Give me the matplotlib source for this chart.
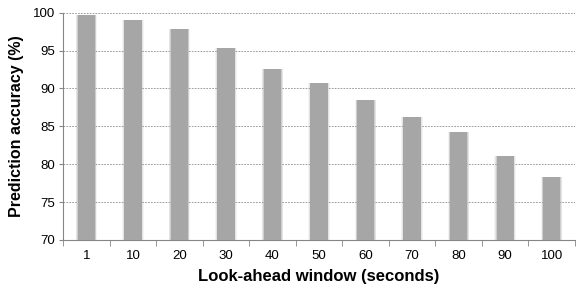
import matplotlib
matplotlib.use("Agg")
import matplotlib.pyplot as plt
import numpy as np

windows = ["1", "10", "20", "30", "40", "50", "60", "70", "80", "90", "100"]
accuracy = [99.7, 99.0, 97.8, 95.3, 92.5, 90.7, 88.5, 86.2, 84.2, 81.1, 78.3]

plt.rcParams["font.family"] = ["Liberation Sans", "DejaVu Sans"]

fig = plt.figure(figsize=(5.79, 2.87), dpi=100)
ax = fig.add_axes([0.109, 0.164, 0.884, 0.792])

x = np.arange(len(windows))
heights = [a - 70 for a in accuracy]
# soft glow around the bars
for w, a in [(0.46, 0.12), (0.43, 0.2), (0.40, 0.35)]:
    ax.bar(x, heights, width=w, bottom=70, color="#a6a6a6", alpha=a, zorder=2)
ax.bar(x, heights, width=0.37, bottom=70, color="#a6a6a6", zorder=3)

ax.set_xlim(-0.5, len(windows) - 0.5)
ax.set_ylim(70, 100)
ax.set_yticks(range(70, 101, 5))
ax.set_xticks(x)
ax.set_xticklabels(windows)
ax.set_xticks(np.arange(-0.5, len(windows), 1), minor=True)
ax.tick_params(axis="x", which="major", length=0, labelsize=9.5, pad=7)
ax.tick_params(axis="x", which="minor", length=4, color="#868686", direction="out")
ax.tick_params(axis="y", length=3, color="#868686", labelsize=9.5, pad=3)

ax.yaxis.grid(True, linestyle=(0, (2, 1.5)), color="#8c8c8c", linewidth=0.6, zorder=1)
ax.set_axisbelow(True)
for s in ["top", "right"]:
    ax.spines[s].set_visible(False)
ax.spines["left"].set_color("#868686")
ax.spines["bottom"].set_color("#868686")

ax.set_ylabel("Prediction accuracy (%)", fontsize=11.5, fontweight="bold", labelpad=6)
ax.set_xlabel("Look-ahead window (seconds)", fontsize=12, fontweight="bold", labelpad=5)

fig.savefig("out.png", dpi=100)
